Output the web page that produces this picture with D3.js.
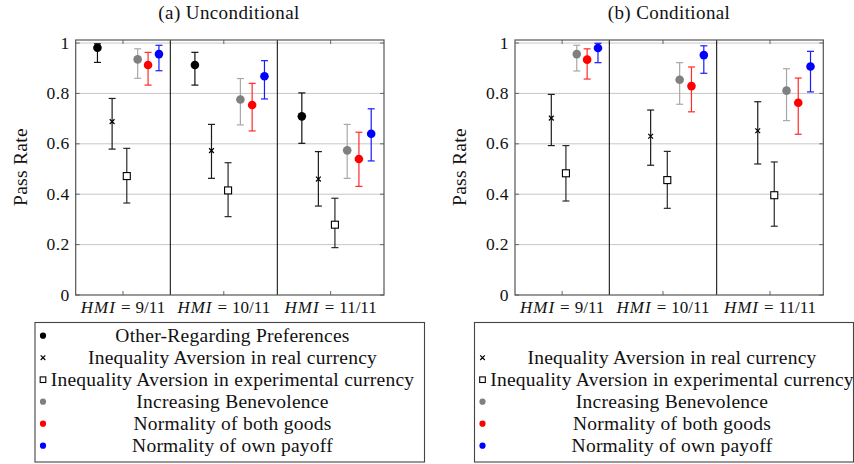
<!DOCTYPE html>
<html>
<head>
<meta charset="utf-8">
<script src="https://cdn.jsdelivr.net/npm/d3@7"></script>
<style>
  body { margin: 0; background: #fff; }
  svg { display: block; }
  text { font-family: "Liberation Serif", "Times New Roman", serif; fill: #111; }
</style>
</head>
<body>
<svg id="chart" width="854" height="464"></svg>
<script>
// categories and series
const categories = ["9/11", "10/11", "11/11"];
const seriesNames = [
  "Other-Regarding Preferences",
  "Inequality Aversion in real currency",
  "Inequality Aversion in experimental currency",
  "Increasing Benevolence",
  "Normality of both goods",
  "Normality of own payoff"
];
const yTicks = [0, 0.2, 0.4, 0.6, 0.8, 1];

// [mean, low, high] per category -- unconditional
const uncOther    = [[0.981, 0.923, 0.997], [0.913, 0.833, 0.963], [0.709, 0.602, 0.802]];
const uncRealIA   = [[0.688, 0.579, 0.780], [0.573, 0.463, 0.677], [0.460, 0.353, 0.569]];
const uncExpIA    = [[0.472, 0.365, 0.582], [0.415, 0.311, 0.525], [0.279, 0.188, 0.384]];
const uncBenev    = [[0.935, 0.860, 0.977], [0.776, 0.675, 0.859], [0.574, 0.463, 0.677]];
const uncNormBoth = [[0.913, 0.833, 0.963], [0.754, 0.651, 0.840], [0.540, 0.431, 0.646]];
const uncNormOwn  = [[0.956, 0.890, 0.991], [0.868, 0.778, 0.930], [0.640, 0.532, 0.739]];

// conditional (no other-regarding series)
const conRealIA   = [[0.702, 0.593, 0.796], [0.630, 0.515, 0.734], [0.652, 0.520, 0.767]];
const conExpIA    = [[0.483, 0.373, 0.593], [0.456, 0.344, 0.570], [0.396, 0.273, 0.528]];
const conBenev    = [[0.956, 0.889, 0.991], [0.854, 0.757, 0.922], [0.811, 0.692, 0.898]];
const conNormBoth = [[0.934, 0.857, 0.977], [0.829, 0.727, 0.905], [0.763, 0.638, 0.861]];
const conNormOwn  = [[0.980, 0.922, 0.999], [0.952, 0.880, 0.989], [0.907, 0.806, 0.967]];

// styles per series
const markShape = ["dot", "cross", "square", "dot", "dot", "dot"];
const markColor = ["#000", "#000", "#000", "#808080", "#ff0000", "#0000ff"];
const barColor  = ["#111", "#1c1c1c", "#2a2a2a", "#a8a8a8", "#ff2a2a", "#1a1aff"];
const offset    = [-0.27, -0.115, 0.04, 0.155, 0.265, 0.38];

const svg = d3.select("#chart");

function drawMark(g, shape, color, x, y, big) {
  if (shape === "dot") {
    g.append("circle").attr("cx", x).attr("cy", y).attr("r", big ? 4.3 : 3.1).attr("fill", color);
  } else if (shape === "square") {
    let s = big ? 3.5 : 2.8;
    g.append("rect").attr("x", x - s).attr("y", y - s).attr("width", 2 * s).attr("height", 2 * s)
      .attr("fill", "#fff").attr("stroke", color).attr("stroke-width", 1.1);
  } else {
    let s = big ? 2.4 : 2.3;
    g.append("path").attr("d", `M${x - s},${y - s}L${x + s},${y + s}M${x - s},${y + s}L${x + s},${y - s}`)
      .attr("stroke", color).attr("stroke-width", 1.2);
  }
}

function drawPanel(opts) {
  let g = svg.append("g");
  let y = d3.scaleLinear().domain([0, 1.012]).range([295, 40]);
  // one segment of the x axis per category
  let x = d3.scaleLinear().domain([0, 1, 2, 3]).range(opts.xRange);
  let left = x(0), right = x(3), top = y.range()[1], bottom = y.range()[0];

  g.append("g").selectAll("line").data(yTicks.filter(d => d > 0)).join("line")
    .attr("x1", left).attr("x2", right).attr("y1", d => y(d)).attr("y2", d => y(d))
    .attr("stroke", "#c8c8c8").attr("stroke-width", 1);

  // inward ticks
  let tk = g.append("g").attr("stroke", "#666").attr("stroke-width", 1);
  yTicks.forEach(d => {
    tk.append("line").attr("x1", left).attr("x2", left + 4).attr("y1", y(d)).attr("y2", y(d));
    tk.append("line").attr("x1", right).attr("x2", right - 4).attr("y1", y(d)).attr("y2", y(d));
  });
  categories.forEach((c, i) => {
    tk.append("line").attr("x1", x(i + 0.5)).attr("x2", x(i + 0.5)).attr("y1", bottom).attr("y2", bottom - 4);
    tk.append("line").attr("x1", x(i + 0.5)).attr("x2", x(i + 0.5)).attr("y1", top).attr("y2", top + 4);
  });

  // dividers between categories
  g.append("g").selectAll("line").data([1, 2]).join("line")
    .attr("x1", d => x(d)).attr("x2", d => x(d)).attr("y1", top).attr("y2", bottom)
    .attr("stroke", "#000").attr("stroke-width", 1);

  g.append("rect").attr("x", left).attr("y", top).attr("width", right - left).attr("height", bottom - top)
    .attr("fill", "none").attr("stroke", "#555").attr("stroke-width", 1.2);

  // y tick labels
  g.append("g").selectAll("text").data(yTicks).join("text")
    .attr("x", left - 6).attr("y", d => y(d) + 5.5).attr("text-anchor", "end")
    .attr("font-size", 17.5).attr("letter-spacing", 0.4)
    .text(d => d === 0 || d === 1 ? d : d3.format(".1f")(d));

  // x tick labels
  categories.forEach((c, i) => {
    let t = g.append("text").attr("x", x(i + 0.5)).attr("y", 313).attr("text-anchor", "middle").attr("font-size", 17);
    t.append("tspan").attr("font-style", "italic").attr("letter-spacing", 1).text("HMI");
    t.append("tspan").attr("dx", 5).text("=");
    t.append("tspan").attr("dx", 5).text(c);
  });

  g.append("text").attr("transform", `translate(${opts.labelX},167) rotate(-90)`)
    .attr("text-anchor", "middle").attr("font-size", 19.5).attr("letter-spacing", 0.3).text("Pass Rate");
  g.append("text").attr("x", opts.titleX).attr("y", 19).attr("text-anchor", "middle")
    .attr("font-size", 19).attr("letter-spacing", 0.4).text(opts.title);

  // error bars + markers
  opts.series.forEach((vals, s) => {
    if (!vals) return;
    vals.forEach((v, i) => {
      let cx = x(i + 0.5 + offset[s]);
      let eb = g.append("g").attr("stroke", barColor[s]).attr("stroke-width", 1.2);
      eb.append("line").attr("x1", cx).attr("x2", cx).attr("y1", y(v[1])).attr("y2", y(v[2]));
      eb.append("line").attr("x1", cx - 3.5).attr("x2", cx + 3.5).attr("y1", y(v[1])).attr("y2", y(v[1]));
      eb.append("line").attr("x1", cx - 3.5).attr("x2", cx + 3.5).attr("y1", y(v[2])).attr("y2", y(v[2]));
      drawMark(g, markShape[s], markColor[s], cx, y(v[0]), true);
    });
  });

  // legend
  let lg = g.append("g");
  lg.append("rect").attr("x", opts.legendX).attr("y", 322.5).attr("width", opts.legendW).attr("height", 139.5)
    .attr("fill", "#fff").attr("stroke", "#444").attr("stroke-width", 1.1);
  seriesNames.forEach((name, s) => {
    if (!opts.series[s]) return;
    let ry = 335.7 + s * 22;
    drawMark(lg, markShape[s], markColor[s], opts.legendX + 8, ry, false);
    lg.append("text").attr("x", opts.legendX + 197.5).attr("y", ry + 6).attr("text-anchor", "middle")
      .attr("font-size", 19.5).attr("letter-spacing", 0.25).text(name);
  });
}

drawPanel({
  title: "(a) Unconditional", titleX: 229, labelX: 27,
  xRange: [75.7, 170.3, 277.3, 384],
  legendX: 35, legendW: 389.5,
  series: [uncOther, uncRealIA, uncExpIA, uncBenev, uncNormBoth, uncNormOwn]
});
drawPanel({
  title: "(b) Conditional", titleX: 669, labelX: 466,
  xRange: [515, 609.3, 716.7, 823.3],
  legendX: 474.5, legendW: 379,
  series: [null, conRealIA, conExpIA, conBenev, conNormBoth, conNormOwn]
});
</script>
</body>
</html>
